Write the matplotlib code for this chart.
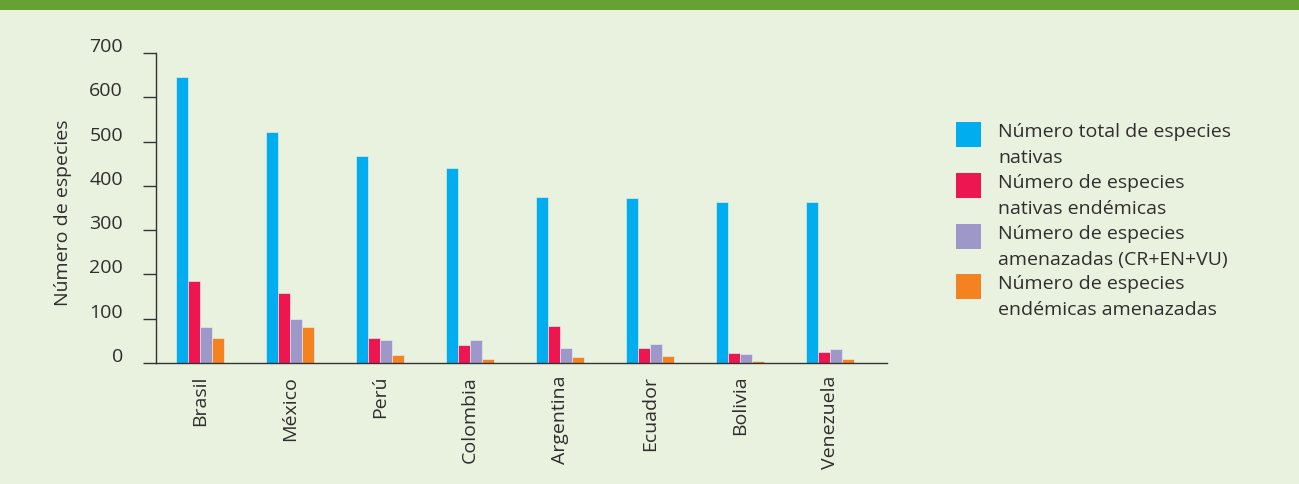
import matplotlib
matplotlib.use("Agg")
import matplotlib.pyplot as plt
from matplotlib.patches import Rectangle
from matplotlib.transforms import ScaledTranslation
import numpy as np

paises = ["Brasil", "México", "Perú", "Colombia", "Argentina", "Ecuador", "Bolivia", "Venezuela"]
nativas = [646, 521, 467, 440, 374, 372, 364, 364]
endemicas = [186, 157, 56, 41, 84, 35, 23, 25]
amenazadas = [81, 99, 53, 53, 35, 44, 20, 32]
endemicas_amenazadas = [56, 81, 19, 10, 13, 16, 4, 10]

series = [nativas, endemicas, amenazadas, endemicas_amenazadas]
etiquetas = ["Número total de especies\nnativas",
             "Número de especies\nnativas endémicas",
             "Número de especies\namenazadas (CR+EN+VU)",
             "Número de especies\nendémicas amenazadas"]
colores = ["#00aeef", "#ed1651", "#9e98c8", "#f58220"]
yticks = [0, 100, 200, 300, 400, 500, 600, 700]

FONT = "Open Sans"
TXT = "#2e2e2e"
FS = 14
plt.rcParams["font.family"] = [FONT, "DejaVu Sans"]

W, H = 1299, 485
fig = plt.figure(figsize=(W / 100, H / 100), dpi=100)
fig.patch.set_facecolor("#e9f2de")

# franja verde superior
fig.patches.append(Rectangle((0, 1 - 11 / H), 1, 11 / H, transform=fig.transFigure,
                             facecolor="#67a135", edgecolor="none"))

ax = fig.add_axes([156 / W, (H - 364) / H, (887 - 156) / W, (364 - 54) / H])
ax.set_facecolor("none")

x = np.arange(len(paises))
paso = 12 / 90
for i, (vals, col) in enumerate(zip(series, colores)):
    ax.bar(x + (i - 1.5) * paso, vals, width=paso, color=col,
           edgecolor="#dfeaf0", linewidth=0.5)

ax.set_xlim(-0.489, 7.633)
ax.set_ylim(0, 700)

for s in ["top", "right"]:
    ax.spines[s].set_visible(False)
for s in ["left", "bottom"]:
    ax.spines[s].set_color("#333333")
    ax.spines[s].set_linewidth(1.0)

ax.set_yticks(yticks)
ax.set_yticklabels([str(v) for v in yticks])
ax.tick_params(axis="y", length=9.4, width=1.0, color="#333333", pad=14.4,
               labelsize=FS, labelcolor=TXT)
for lab in ax.get_yticklabels():
    lab.set_transform(lab.get_transform() + ScaledTranslation(0, 9 / 100, fig.dpi_scale_trans))

ax.set_xticks(x)
ax.set_xticklabels(paises, rotation=90, fontsize=FS, color=TXT)
ax.tick_params(axis="x", length=0, pad=8.5)

fig.text(63 / W, 1 - 213 / H, "Número de especies", rotation=90, ha="center",
         va="center", fontsize=FS, color=TXT)

# leyenda
tops = [123, 174, 225, 275]
for top, col, lab in zip(tops, colores, etiquetas):
    fig.patches.append(Rectangle((956 / W, 1 - (top + 25) / H), 25 / W, 25 / H,
                                 transform=fig.transFigure, facecolor=col, edgecolor="none"))
    fig.text(998 / W, 1 - top / H, lab, ha="left", va="top", fontsize=FS,
             color=TXT, linespacing=1.55)

fig.savefig("out.png", dpi=100, facecolor=fig.get_facecolor())
